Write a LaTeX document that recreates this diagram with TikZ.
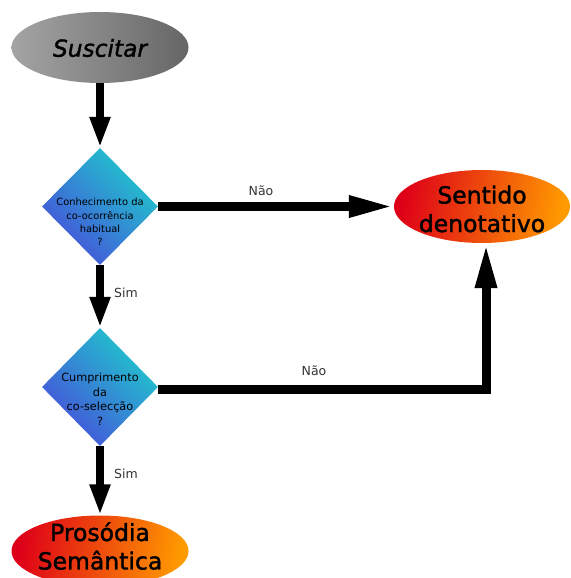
\documentclass[tikz,border=0pt]{standalone}
\usepackage{fontspec}
\setmainfont{DejaVu Sans}
\newfontfamily\heavyfont[FakeBold=1.5]{DejaVu Sans}
\usetikzlibrary{shapes.geometric,arrows.meta}
\definecolor{gryL}{HTML}{A4A4A4}
\definecolor{gryR}{HTML}{666666}
\definecolor{redL}{HTML}{DE0018}
\definecolor{orgR}{HTML}{FF9A00}
\definecolor{bluL}{HTML}{4650DA}
\definecolor{cyaR}{HTML}{20C8CC}
\definecolor{lbl}{HTML}{333333}
\begin{document}
\begin{tikzpicture}[x=1pt,y=-1pt,
  oval/.style={ellipse, inner sep=0pt, minimum width=177pt, minimum height=71pt},
  grayoval/.style={oval, left color=gryL, right color=gryR},
  hotoval/.style={oval, left color=redL, right color=orgR, shading angle=80},
  decision/.style={diamond, inner sep=0pt, minimum width=116pt, minimum height=117pt, left color=bluL, right color=cyaR, shading angle=135},
  bigtxt/.style={font=\heavyfont\fontsize{23.5}{28.5}\selectfont, align=center, inner sep=0pt, text=black},
  smalltxt/.style={align=center, inner sep=0pt, text=black},
  lab/.style={font=\fontsize{12.5}{14}\selectfont, text=lbl, inner sep=0pt},
  vflow/.style={line width=8pt, -{Triangle[length=31pt,width=19pt]}},
  hflow/.style={line width=9pt, -{Triangle[length=45pt,width=20pt]}}]
\useasboundingbox (0,0) rectangle (570,578);
% nodes
\node[grayoval] (sus) at (100,47.5) {};
\node[font=\heavyfont\fontsize{23.3}{28}\selectfont\itshape, inner sep=0pt] (sustxt) at (100,48) {Suscitar};
\node[decision] (d1) at (100,206.5) {};
\node[smalltxt, font=\fontsize{9.9}{13.3}\selectfont] (d1txt) at (100,222) {Conhecimento da\\co-ocorrência\\habitual\\?};
\node[decision, minimum height=118pt] (d2) at (100,387) {};
\node[smalltxt, font=\fontsize{11.3}{14.5}\selectfont] (d2txt) at (100,399) {Cumprimento\\da\\co-selecção\\?};
\node[hotoval, minimum width=176pt, minimum height=73pt] (sent) at (482,206.5) {};
\node[bigtxt] (senttxt) at (482,209) {Sentido\\denotativo};
\node[hotoval] (pros) at (100,551) {};
\node[bigtxt] (prostxt) at (100,546) {Prosódia\\Semântica};
% connectors
\draw[vflow] (sus.south) -- (d1.north);
\draw[vflow] (d1.south) -- (d2.north);
\draw[vflow] (d2.south) -- (pros.north);
\draw[hflow] (d1.east) -- (sent.west);
\draw[hflow] ([yshift=-2pt]d2.east) -| ([xshift=4pt]sent.south);
% labels
\node[lab] (no1) at (261,191) {Não};
\node[lab] (no2) at (314,371) {Não};
\node[lab] (yes1) at (126,293) {Sim};
\node[lab] (yes2) at (126,474) {Sim};
\end{tikzpicture}
\end{document}
